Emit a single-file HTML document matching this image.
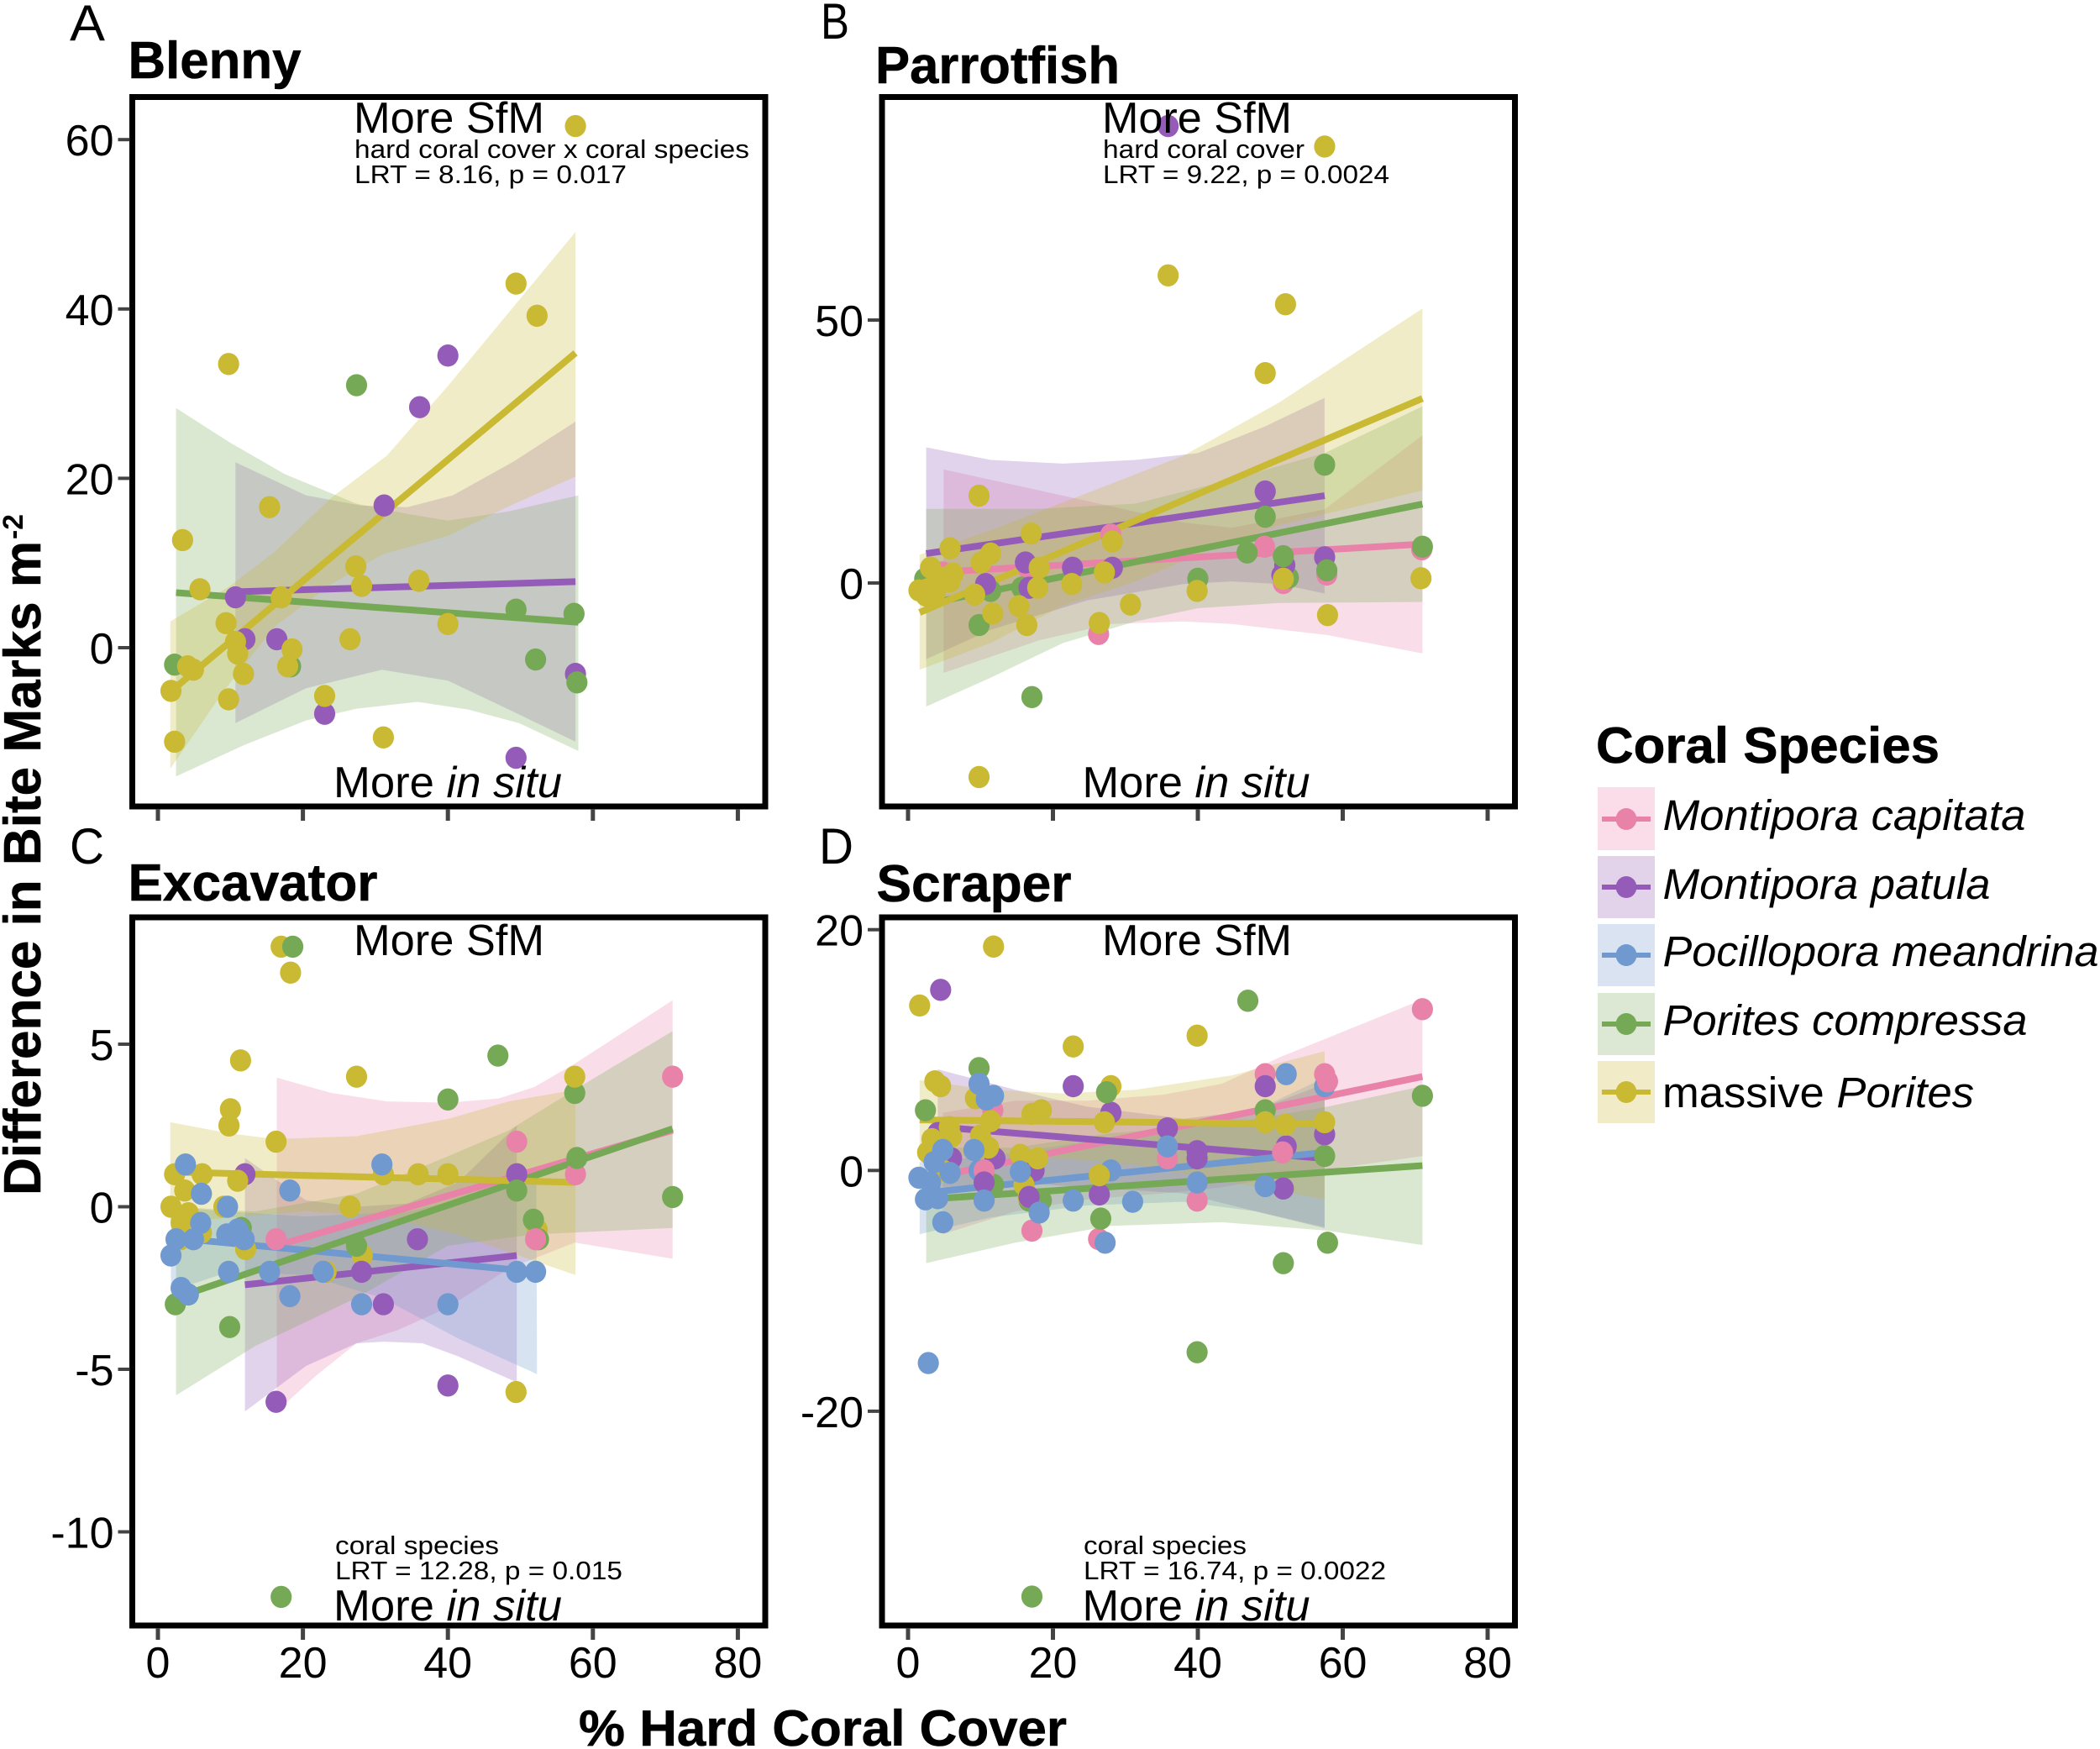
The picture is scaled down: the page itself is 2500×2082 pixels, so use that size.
<!DOCTYPE html>
<html lang="en">
<head>
<meta charset="utf-8">
<title>Difference in bite marks vs hard coral cover</title>
<style>
html,body{margin:0;padding:0;background:#fff;width:2500px;height:2082px;overflow:hidden}
svg{display:block}
text{font-family:"Liberation Sans",sans-serif;fill:#000}
.note{font-size:31px}
.big{font-size:52px}
.title{font-size:62px;font-weight:bold;stroke:#000;stroke-width:0.6px}
.tag{font-size:60px}
.leg{font-size:51px}
</style>
</head>
<body>
<svg xmlns="http://www.w3.org/2000/svg" width="2500" height="2082" viewBox="0 0 2500 2082">
<rect x="0" y="0" width="2500" height="2082" fill="#fff"/>

<g id="panel-blenny"></g>
<g id="panel-parrotfish"></g>
<g id="panel-excavator"></g>
<g id="panel-scraper"></g>

<text class="tag" x="83" y="48" textLength="42" lengthAdjust="spacingAndGlyphs">A</text>
<text class="tag" x="977" y="46" textLength="34" lengthAdjust="spacingAndGlyphs">B</text>
<text class="tag" x="83" y="1028" textLength="41" lengthAdjust="spacingAndGlyphs">C</text>
<text class="tag" x="975" y="1028" textLength="41" lengthAdjust="spacingAndGlyphs">D</text>

<text class="title" x="152.5" y="93" textLength="206" lengthAdjust="spacingAndGlyphs">Blenny</text>
<text class="title" x="1042" y="99" textLength="291" lengthAdjust="spacingAndGlyphs">Parrotfish</text>
<text class="title" x="152.5" y="1072" textLength="297" lengthAdjust="spacingAndGlyphs">Excavator</text>
<text class="title" x="1043.5" y="1073" textLength="232" lengthAdjust="spacingAndGlyphs">Scraper</text>

<text class="big" x="421" y="158" textLength="227" lengthAdjust="spacingAndGlyphs">More SfM</text>
<text class="note" x="422" y="188" textLength="470" lengthAdjust="spacingAndGlyphs">hard coral cover x coral species</text>
<text class="note" x="422" y="218" textLength="324" lengthAdjust="spacingAndGlyphs">LRT = 8.16, p = 0.017</text>
<text class="big" x="397" y="949" textLength="272" lengthAdjust="spacingAndGlyphs">More <tspan font-style="italic">in situ</tspan></text>

<text class="big" x="1312" y="158" textLength="226" lengthAdjust="spacingAndGlyphs">More SfM</text>
<text class="note" x="1313" y="188" textLength="240" lengthAdjust="spacingAndGlyphs">hard coral cover</text>
<text class="note" x="1313" y="218" textLength="341" lengthAdjust="spacingAndGlyphs">LRT = 9.22, p = 0.0024</text>
<text class="big" x="1288.5" y="949" textLength="271" lengthAdjust="spacingAndGlyphs">More <tspan font-style="italic">in situ</tspan></text>

<text class="big" x="421" y="1137" textLength="227" lengthAdjust="spacingAndGlyphs">More SfM</text>
<text class="note" x="399" y="1850" textLength="195" lengthAdjust="spacingAndGlyphs">coral species</text>
<text class="note" x="399" y="1880" textLength="342" lengthAdjust="spacingAndGlyphs">LRT = 12.28, p = 0.015</text>
<text class="big" x="397" y="1929" textLength="272" lengthAdjust="spacingAndGlyphs">More <tspan font-style="italic">in situ</tspan></text>

<text class="big" x="1312" y="1137" textLength="226" lengthAdjust="spacingAndGlyphs">More SfM</text>
<text class="note" x="1290" y="1850" textLength="194" lengthAdjust="spacingAndGlyphs">coral species</text>
<text class="note" x="1290" y="1880" textLength="360" lengthAdjust="spacingAndGlyphs">LRT = 16.74, p = 0.0022</text>
<text class="big" x="1288.5" y="1929" textLength="271" lengthAdjust="spacingAndGlyphs">More <tspan font-style="italic">in situ</tspan></text>

<text x="689" y="2078" font-size="60" font-weight="bold" stroke="#000" stroke-width="0.6" textLength="581" lengthAdjust="spacingAndGlyphs">% Hard Coral Cover</text>
<text transform="translate(48,1423) rotate(-90)" x="0" y="0" font-size="62" font-weight="bold" stroke="#000" stroke-width="0.6" textLength="779" lengthAdjust="spacingAndGlyphs">Difference in Bite Marks m</text>
<text transform="translate(27,642) rotate(-90)" x="0" y="0" font-size="34" font-weight="bold" textLength="30" lengthAdjust="spacingAndGlyphs">-2</text>

<g>
<text x="1900" y="908" font-size="60" font-weight="bold" stroke="#000" stroke-width="0.6" textLength="409" lengthAdjust="spacingAndGlyphs">Coral Species</text>
<g>
<rect x="1902" y="937" width="68" height="75" fill="#FADDE8"/>
<rect x="1907" y="972" width="58" height="6" fill="#E982A9"/>
<ellipse cx="1936" cy="975" rx="12.4" ry="13" fill="#E982A9"/>
<text class="leg" x="1979.5" y="988" font-style="italic" textLength="432" lengthAdjust="spacingAndGlyphs">Montipora capitata</text>
</g>
<g>
<rect x="1902" y="1019" width="68" height="74" fill="#E2D3EA"/>
<rect x="1907" y="1053" width="58" height="6" fill="#945CB8"/>
<ellipse cx="1936" cy="1056" rx="12.4" ry="13" fill="#945CB8"/>
<text class="leg" x="1979.5" y="1070" font-style="italic" textLength="390" lengthAdjust="spacingAndGlyphs">Montipora patula</text>
</g>
<g>
<rect x="1902" y="1100" width="68" height="74" fill="#D9E3F2"/>
<rect x="1907" y="1134" width="58" height="6" fill="#6F99CF"/>
<ellipse cx="1936" cy="1137" rx="12.4" ry="13" fill="#6F99CF"/>
<text class="leg" x="1979.5" y="1150" font-style="italic" textLength="519" lengthAdjust="spacingAndGlyphs">Pocillopora meandrina</text>
</g>
<g>
<rect x="1902" y="1182" width="68" height="74" fill="#DDE8D4"/>
<rect x="1907" y="1216" width="58" height="6" fill="#76A955"/>
<ellipse cx="1936" cy="1219" rx="12.4" ry="13" fill="#76A955"/>
<text class="leg" x="1979.5" y="1232" font-style="italic" textLength="434" lengthAdjust="spacingAndGlyphs">Porites compressa</text>
</g>
<g>
<rect x="1902" y="1263" width="68" height="74" fill="#F1ECC7"/>
<rect x="1907" y="1297" width="58" height="6" fill="#C9B933"/>
<ellipse cx="1936" cy="1300" rx="12.4" ry="13" fill="#C9B933"/>
<text class="leg" x="1979" y="1318" textLength="371" lengthAdjust="spacingAndGlyphs">massive <tspan font-style="italic">Porites</tspan></text>
</g>
</g>
</svg>

<script>
const xTickValues = [0, 20, 40, 60, 80];
const blennyYTicks = [0, 20, 40, 60];
const parrotfishYTicks = [0, 50];
const excavatorYTicks = [-10, -5, 0, 5];
const scraperYTicks = [-20, 0, 20];

const speciesCodes = ["cap", "pat", "mea", "com", "mas"];
const speciesColors = ["#E982A9", "#945CB8", "#6F99CF", "#76A955", "#C9B933"];

/* Regression lines: [species, x1, y1, x2, y2] */
const blennyLines = [
  ["pat", 10.7, 6.6, 57.6, 7.8],
  ["com", 2.5, 6.5, 58, 3],
  ["mas", 2, -5, 57.6, 34.8]
];
const parrotfishLines = [
  ["cap", 4.8, 2.1, 71, 7.4],
  ["pat", 2.5, 5.6, 57.5, 16.6],
  ["com", 2.5, -4, 71, 15],
  ["mas", 1.6, -5.6, 71, 35.1]
];
const excavatorLines = [
  ["cap", 16.3, -1.2, 71, 2.35],
  ["pat", 12, -2.4, 49.5, -1.5],
  ["mea", 1.8, -0.95, 52.1, -2],
  ["com", 2.5, -2.8, 71, 2.4],
  ["mas", 1.7, 1.07, 57.6, 0.75]
];
const scraperLines = [
  ["cap", 4.8, -0.4, 71, 7.8],
  ["pat", 4.5, 3.6, 57.5, 1],
  ["mea", 1.6, -1.9, 57.5, 1.5],
  ["com", 2.5, -2.4, 71, 0.4],
  ["mas", 1.6, 4.2, 57.5, 3.85]
];

/* Confidence ribbons: species, upper band, lower band as [x, y] data values */
const blennyRibbons = [
  {sp:"pat", upper:[[10.7,21.9],[20.4,18],[28,16.8],[34.4,16.6],[40.7,18],[49.1,22],[57.6,26.7]],
             lower:[[10.7,-8.9],[20.4,-4.8],[30.9,-2.6],[40,-3.9],[48.4,-7.3],[57.6,-11.1]]},
  {sp:"com", upper:[[2.5,28.3],[9.8,24.3],[17.5,20.5],[27.4,17],[34.4,15.8],[40,15],[48.4,16.1],[58,18]],
             lower:[[2.5,-15.2],[11.9,-11.5],[20.4,-8.6],[27.4,-7.2],[35.8,-6.4],[42.8,-7.3],[49.8,-8.9],[58,-12.2]]},
  {sp:"mas", upper:[[1.7,3.1],[9.8,7.2],[16.1,11.3],[23.9,17.7],[31.6,22.7],[40,30.9],[57.6,49.1]],
             lower:[[1.7,-14.3],[9.1,-5.1],[16.1,2.5],[23.9,7.5],[30.9,11],[40,13.2],[48.4,16.7],[57.6,20.2]]}
];
const parrotfishRibbons = [
  {sp:"cap", upper:[[4.9,21.6],[18.1,17.6],[28,14.6],[38,11.5],[44.7,10.5],[57.5,14],[71,28.1]],
             lower:[[4.9,-17.1],[18.1,-10.9],[28,-7.8],[38,-7.3],[44.7,-7.8],[57.9,-9.9],[71,-13.4]]},
  {sp:"pat", upper:[[2.5,25.8],[11.4,23.4],[21.4,22.7],[31.4,23.4],[40,24.7],[49.3,29.8],[57.5,35.2]],
             lower:[[2.5,-14.5],[11.4,-8.9],[24.7,-3.3],[38,-0.2],[44.7,0.3],[51.3,-0.2],[57.5,-2]]},
  {sp:"com", upper:[[2.5,14.1],[18.1,14.1],[31.4,15.1],[44.7,19.7],[57.5,24.7],[71,33.6]],
             lower:[[2.5,-23.5],[11.4,-18],[21.4,-11.4],[31.4,-7.3],[40,-4.8],[51.3,-3.8],[71,-3.6]]},
  {sp:"mas", upper:[[1.6,5.4],[11.4,10],[24.7,17.1],[38,24.2],[51.3,34.4],[71,52.2]],
             lower:[[1.6,-16.5],[11.4,-11.4],[21.4,-4.3],[31.4,0.3],[40,5.4],[51.3,11],[71,17.6]]}
];
const excavatorRibbons = [
  {sp:"cap", upper:[[16.4,3.97],[23.9,3.5],[31.6,3.24],[40,3.2],[47,3.33],[51.9,3.68],[57.5,4.4],[71,6.35]],
             lower:[[16.4,-6.3],[21.8,-5.2],[27.4,-4.2],[33,-3.8],[40,-3.1],[48.4,-1.9],[57.5,-1.1],[71,-1.6]]},
  {sp:"pat", upper:[[12,1.5],[20.4,0.2],[27.4,0],[34.4,0.1],[41.4,0.75],[49.5,2.5]],
             lower:[[12,-6.3],[20.4,-4.9],[27.4,-4.2],[31.2,-4.15],[36.5,-4.2],[41.4,-4.6],[49.5,-5.4]]},
  {sp:"mea", upper:[[1.8,0],[9.8,-0.15],[20.4,-0.3],[34.4,-0.15],[52.2,0.75]],
             lower:[[1.8,-2.6],[9.8,-2],[20.4,-2.1],[30.9,-2.8],[41.4,-4.05],[52.3,-5.15]]},
  {sp:"com", upper:[[2.5,0],[13.3,-0.15],[27.4,0.4],[40,1.55],[48.4,2.35],[57.5,3.6],[71,5.4]],
             lower:[[2.5,-5.8],[13.3,-4.3],[27.4,-2.8],[40,-1.2],[51.9,-0.85],[71,-0.65]]},
  {sp:"mas", upper:[[1.7,2.6],[9.8,2.26],[16.1,2.08],[27.4,2.17],[40,2.7],[48.4,3.24],[57.6,3.6]],
             lower:[[1.7,-0.5],[11.9,-0.3],[20.4,-0.14],[30.9,-0.3],[41.4,-0.85],[48.4,-1.4],[57.6,-2.1]]}
];
const scraperRibbons = [
  {sp:"cap", upper:[[4.8,4.8],[14.8,5.8],[24.7,5.8],[35.3,6.3],[43.3,7.2],[51.3,9.4],[71,14.2]],
             lower:[[4.8,-5.3],[14.8,-3.4],[24.7,-2.4],[35.3,-1.9],[43.3,-1.4],[51.3,-0.5],[71,1.2]]},
  {sp:"pat", upper:[[4.1,8.4],[14.8,6.7],[24.7,5.3],[38,4.3],[48,5],[57.5,7.2]],
             lower:[[4.1,-1.4],[14.8,-1],[24.7,-1.4],[38,-1.9],[48,-3.4],[57.5,-4.8]]},
  {sp:"mea", upper:[[1.6,0.7],[11.4,1.2],[24.7,2.4],[38,3.8],[48,5],[57.5,7.7]],
             lower:[[1.6,-5.3],[11.4,-3.9],[24.7,-2.9],[38,-2.6],[48,-3.4],[57.5,-4.7]]},
  {sp:"com", upper:[[2.5,1.9],[14.8,1.9],[28,3.1],[43.3,3.8],[57.9,5.3],[71,7]],
             lower:[[2.5,-7.7],[14.8,-6],[28,-4.6],[43.3,-4.3],[57.9,-5],[71,-6.2]]},
  {sp:"mas", upper:[[1.6,7.5],[11.4,6.7],[21.4,6.4],[31.4,6.7],[44.7,7.9],[57.5,9.9]],
             lower:[[1.6,1.2],[11.4,1.2],[21.4,1],[31.4,0.5],[44.7,-1],[57.5,-2.4]]}
];

/* Survey points, in drawing order: [species, % hard coral cover, difference in bite marks] */
const blennyPoints = [
  ["pat",10.7,5.95],["pat",12,1],["pat",16.4,1],["pat",31.2,16.8],["pat",36.1,28.4],["pat",40,34.5],["pat",23,-7.8],["pat",49.4,-13],["pat",57.6,-3.1],
  ["com",2.3,-2],["com",18.3,-2.2],["com",27.4,31],["com",49.4,4.5],["com",57.4,4],["com",52.1,-1.4],["com",57.8,-4.1],
  ["mas",57.6,61.6],["mas",49.4,43],["mas",52.3,39.2],["mas",9.75,33.5],["mas",15.4,16.6],["mas",3.4,12.7],["mas",5.8,6.9],["mas",17,5.95],
  ["mas",27.3,9.6],["mas",28.1,7.3],["mas",36,7.9],["mas",40,2.8],["mas",26.5,1],["mas",9.4,2.9],["mas",10.7,0.7],["mas",11,-0.7],
  ["mas",11.8,-3.1],["mas",18.5,-0.2],["mas",17.9,-2.2],["mas",4.1,-2.2],["mas",4.9,-2.6],["mas",1.8,-5.1],["mas",9.75,-6.1],["mas",23,-5.7],
  ["mas",2.3,-11.1],["mas",31.1,-10.6]
];
const parrotfishPoints = [
  ["cap",49.2,6.9],["cap",28,9.2],["cap",26.3,-9.7],["cap",51.8,0],["cap",57.8,1.6],["cap",70.9,6.4],["cap",4.8,2],["cap",16.7,2.5],
  ["com",2.3,0.8],["com",11.4,-1.5],["com",15.7,-0.9],["com",52.5,1],
  ["pat",35.9,86.9],["pat",49.3,17.4],["pat",57.5,4.9],["pat",52,3.4],["pat",51.6,1.5],["pat",28.2,2.9],["pat",22.7,2.9],["pat",16.2,3.9],["pat",10.7,-0.2],["pat",16.7,-0.9],
  ["com",57.5,22.5],["com",49.3,12.6],["com",46.8,5.8],["com",51.8,5.1],["com",71,6.9],["com",57.8,2.4],["com",40,0.8],["com",9.8,-8],["com",17.1,-21.7],
  ["mas",57.5,83],["mas",35.9,58.5],["mas",52.1,53],["mas",49.3,39.9],["mas",9.8,16.6],["mas",17,9.4],["mas",28.2,7.9],["mas",5.8,6.6],
  ["mas",11.4,5.6],["mas",10.1,3.9],["mas",3.1,2.9],["mas",18.1,2.9],["mas",6.2,1.8],["mas",4.8,1],["mas",5.8,0.3],["mas",27.1,2],
  ["mas",22.6,-0.2],["mas",17.9,-0.9],["mas",51.8,0.8],["mas",70.8,0.9],["mas",39.9,-1.5],["mas",9.2,-2.2],["mas",30.7,-4.1],["mas",15.3,-4.4],
  ["mas",11.7,-5.8],["mas",16.4,-8],["mas",26.4,-7.6],["mas",57.9,-6.1],["mas",9.8,-36.9],["mas",1.5,-1.4],["mas",2.7,-1.2],["mas",3.5,-0.7],
  ["mas",2.5,-2.4],["mas",3.8,-1.7]
];
const excavatorPoints = [
  ["mas",17,8],["mas",18.3,7.2],["mas",11.4,4.5],["mas",27.4,4],["mas",10,3],["mas",9.8,2.5],["mas",16.3,2],
  ["pat",12,1],["mas",2.3,1],["mas",6.1,1],["mas",11,0.8],["mas",31.1,1],["mas",35.9,1],["mas",40,1],["mas",3.7,0.5],["mas",1.8,0],["mas",26.5,0],
  ["mas",9.1,0],["mas",4.2,-0.2],["mas",3.2,-0.5],["mas",6,-0.8],["mas",3.1,-1],["mas",12.1,-1.3],["mas",28.2,-1.5],["mas",23.2,-2],["mas",49.4,-5.7],["mas",52.3,-0.7],
  ["pat",49.5,1],["pat",35.8,-1],["pat",28.1,-2],["pat",31.1,-3],["pat",40,-5.5],["pat",16.3,-6],
  ["cap",71,4],["cap",49.5,2],["cap",57.6,1],
  ["com",18.6,8],["com",46.9,4.65],["com",40,3.3],["com",57.5,3.5],["com",57.8,1.5],["com",71,0.3],["com",49.5,0.5],["com",51.8,-0.4],["com",52.5,-1],
  ["com",11.5,-0.65],["com",27.4,-1.2],["com",2.4,-3],["com",9.9,-3.7],["com",17,-12],
  ["cap",52.1,-1],["cap",16.3,-1],["mas",57.5,4],
  ["mea",3.8,1.3],["mea",6,0.4],["mea",30.9,1.3],["mea",18.2,0.5],["mea",9.6,0],["mea",5.9,-0.5],["mea",2.5,-1],["mea",4.9,-1],["mea",9.5,-0.85],["mea",11,-0.7],["mea",11.9,-1],
  ["mea",1.8,-1.5],["mea",9.75,-2],["mea",15.4,-2],["mea",22.8,-2],["mea",49.5,-2],["mea",52.1,-2],["mea",3.2,-2.5],["mea",4.2,-2.7],["mea",18.2,-2.75],["mea",28.1,-3],["mea",40,-3]
];
const scraperPoints = [
  ["cap",71,13.4],["cap",49.3,8],["cap",35.8,1],["cap",39.9,-2.5],["cap",17.1,-5],["cap",26.3,-5.7],["cap",11.7,5],
  ["pat",4.5,15],["pat",22.8,7],["pat",28,4.8],["pat",49.3,7],["pat",35.8,3.5],["pat",57.5,3],["pat",52.2,2],["pat",39.9,1.6],["pat",39.9,1],["pat",12,1],["pat",6,1],["pat",17.4,0],
  ["pat",26.4,-2],["pat",51.8,-1.5],["pat",4.1,3.1],
  ["com",46.9,14.1],["com",9.8,8.5],["com",2.4,5],["com",49.3,5],["com",71,6.2],["com",57.5,1.2],["com",26.6,-4],["com",57.9,-6],["com",51.8,-7.7],["com",39.9,-15.1],["com",17.1,-35.4],
  ["com",11.8,-1.2],["com",18.4,-2.5],["com",16.7,-2.5],
  ["mas",11.8,18.6],["mas",1.6,13.7],["mas",22.8,10.3],["mas",39.9,11.2],["mas",28,7],["mas",9.3,6],["mas",5.7,3.6],["mas",6,2.8],["mas",11.4,4.1],["mas",10,2.9],
  ["mas",18.4,5],["mas",17.1,4.7],["mas",3.3,2.6],["mas",2.7,1.5],["mas",9.9,1.9],["mas",11.1,1.9],["mas",15.5,1.3],["mas",17.9,1],["mas",4.8,0],["mas",16,-1.2],["mas",16.6,-2.2],
  ["pat",16.7,-2.2],["com",27.4,6.5],
  ["mea",52.2,8],["mea",57.5,7],["mea",9.8,7.2],["mea",11.8,6.2],["mea",10.8,5.9],["mea",4.8,1.7],["mea",9.1,1.7],["mea",35.8,2],["mea",3.6,0.7],["mea",9.8,0],["mea",15.5,-0.1],
  ["mea",28,0],["mea",5.8,-0.2],["mea",1.5,-0.6],["mea",3.1,-1],["mea",39.9,-1],["mea",49.3,-1.3],["mea",2.4,-2.4],["mea",4.1,-2.3],["mea",22.8,-2.5],["mea",31,-2.6],
  ["mea",18.1,-3.5],["mea",4.8,-4.3],["mea",27.2,-6],["mea",2.8,-16],
  ["cap",10.5,0],["pat",10.5,-1],["mea",10.5,-2.5],
  ["mas",3.7,7.4],["mas",4.5,7],["mas",27.1,4],["mas",49.3,4],["mas",52.1,3.8],["mas",57.5,4],["mas",26.4,-0.4],
  ["cap",57.5,8],["cap",57.9,7.4],["cap",51.7,1.5]
];

const NS = "http://www.w3.org/2000/svg";

function make(tag, attrs) {
  const el = document.createElementNS(NS, tag);
  for (const k in attrs) el.setAttribute(k, attrs[k]);
  return el;
}
function speciesColor(code) {
  return speciesColors[speciesCodes.indexOf(code)];
}

function drawPanel(groupId, frame, xAxis, yAxis, yTicks, ribbons, lines, points, showXLabels) {
  const group = document.getElementById(groupId);
  const xScale = function (v) { return xAxis.zero + v * xAxis.perUnit; };
  const yScale = function (v) { return yAxis.zero - v * yAxis.perUnit; };

  ribbons.forEach(function (r) {
    const top = r.upper.map(function (p) { return xScale(p[0]).toFixed(1) + "," + yScale(p[1]).toFixed(1); });
    const bottom = r.lower.slice().reverse().map(function (p) { return xScale(p[0]).toFixed(1) + "," + yScale(p[1]).toFixed(1); });
    const band = make("polygon", {points: top.concat(bottom).join(" "), fill: speciesColor(r.sp), "fill-opacity": 0.27});
    
    
    group.appendChild(band);
  });

  lines.forEach(function (l) {
    const fit = make("line", {x1: xScale(l[1]), y1: yScale(l[2]), x2: xScale(l[3]), y2: yScale(l[4]), stroke: speciesColor(l[0]), "stroke-width": 8});
    
    
    group.appendChild(fit);
  });

  points.forEach(function (p) {
    const dot = make("ellipse", {cx: xScale(p[1]), cy: yScale(p[2]), rx: 12.6, ry: 13.2, fill: speciesColor(p[0])});
    
    
    group.appendChild(dot);
  });

  const box = make("rect", {x: frame.left, y: frame.top, width: frame.right - frame.left, height: frame.bottom - frame.top, fill: "none", stroke: "#000", "stroke-width": 7});
  
  
  group.appendChild(box);

  yTicks.forEach(function (t) {
    const y = yScale(t);
    const tick = make("rect", {x: frame.left - 17, y: y - 2, width: 14, height: 4, fill: "#444"});
    
    
    group.appendChild(tick);
    const label = make("text", {x: frame.left - 22, y: y + 19, "font-size": 52, "text-anchor": "end"});
    label.textContent = String(t);
    
    
    group.appendChild(label);
  });

  xTickValues.forEach(function (t) {
    const x = xScale(t);
    const tick = make("rect", {x: x - 2.5, y: frame.bottom + 3, width: 5, height: 14, fill: "#444"});
    
    
    group.appendChild(tick);
    if (showXLabels) {
      const label = make("text", {x: x, y: frame.bottom + 62, "font-size": 52, "text-anchor": "middle"});
      label.textContent = String(t);
      
      
      group.appendChild(label);
    }
  });
}

drawPanel("panel-blenny", {left: 157.5, right: 911, top: 115.5, bottom: 960},
  {zero: 188, perUnit: 8.63}, {zero: 771, perUnit: 10.08},
  blennyYTicks, blennyRibbons, blennyLines, blennyPoints, false);
drawPanel("panel-parrotfish", {left: 1050, right: 1803.5, top: 115.5, bottom: 960},
  {zero: 1081, perUnit: 8.625}, {zero: 694, perUnit: 6.26},
  parrotfishYTicks, parrotfishRibbons, parrotfishLines, parrotfishPoints, false);
drawPanel("panel-excavator", {left: 157.5, right: 911, top: 1092, bottom: 1935},
  {zero: 188, perUnit: 8.63}, {zero: 1436.5, perUnit: 38.7},
  excavatorYTicks, excavatorRibbons, excavatorLines, excavatorPoints, true);
drawPanel("panel-scraper", {left: 1050, right: 1803.5, top: 1092, bottom: 1935},
  {zero: 1081, perUnit: 8.625}, {zero: 1393.3, perUnit: 14.33},
  scraperYTicks, scraperRibbons, scraperLines, scraperPoints, true);
</script>
</body>
</html>
